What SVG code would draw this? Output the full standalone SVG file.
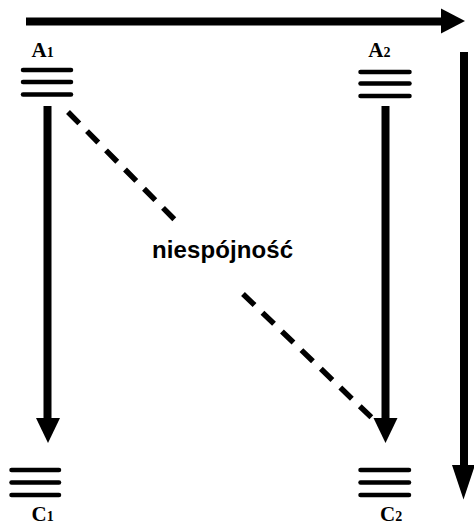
<svg xmlns="http://www.w3.org/2000/svg" width="474" height="526" viewBox="0 0 474 526">
<style>
.bar{stroke:#000;stroke-width:4.5;stroke-linecap:round;fill:none}
.lbl{font-family:"Liberation Serif","Times New Roman",serif;font-weight:bold;font-size:21px;fill:#000}
.sub{font-size:14px}
.shaft{stroke:#000;stroke-width:8;fill:none}
.dash{stroke:#000;stroke-width:5.5;stroke-dasharray:16 11;fill:none}
.head{fill:#000}
.mid{font-family:"Liberation Sans",Arial,sans-serif;font-weight:bold;font-size:24px;fill:#000}
</style>
<rect width="474" height="526" fill="#fff"/>
<g id="connectors">
  <line class="shaft" x1="26" y1="21.5" x2="443" y2="21.5"/>
  <polygon class="head" points="441,8.5 465,21 441,33.5"/>
  <line class="shaft" x1="464" y1="52" x2="464" y2="467"/>
  <polygon class="head" points="452,465 475,465 463.5,499.5"/>
  <line class="shaft" x1="47.5" y1="106" x2="47.5" y2="420"/>
  <polygon class="head" points="36,418 60,418 48,443"/>
  <line class="shaft" x1="385.5" y1="106" x2="385.5" y2="420"/>
  <polygon class="head" points="373.5,418 397.5,418 385.5,443"/>
  <line class="dash" x1="68" y1="112" x2="177" y2="222"/>
  <line class="dash" x1="243" y1="294" x2="372" y2="418"/>
  <text class="mid" x="152" y="258" textLength="141">niespójność</text>
</g>
<g id="A1">
  <line class="bar" x1="23" y1="70" x2="71" y2="70"/>
  <line class="bar" x1="23" y1="82" x2="71" y2="82"/>
  <line class="bar" x1="23" y1="94.5" x2="71" y2="94.5"/>
  <text class="lbl" x="31.5" y="57">A<tspan class="sub">1</tspan></text>
</g>
<g id="A2">
  <line class="bar" x1="360.5" y1="72" x2="409.5" y2="72"/>
  <line class="bar" x1="360.5" y1="83.5" x2="409.5" y2="83.5"/>
  <line class="bar" x1="360.5" y1="96" x2="409.5" y2="96"/>
  <text class="lbl" x="368.3" y="57">A<tspan class="sub">2</tspan></text>
</g>
<g id="C1">
  <line class="bar" x1="11.5" y1="470" x2="59" y2="470"/>
  <line class="bar" x1="11.5" y1="482.5" x2="59" y2="482.5"/>
  <line class="bar" x1="11.5" y1="495" x2="59" y2="495"/>
  <text class="lbl" x="31.5" y="520.5">C<tspan class="sub">1</tspan></text>
</g>
<g id="C2">
  <line class="bar" x1="360.5" y1="470" x2="409" y2="470"/>
  <line class="bar" x1="360.5" y1="482.5" x2="409" y2="482.5"/>
  <line class="bar" x1="360.5" y1="495" x2="409" y2="495"/>
  <text class="lbl" x="380" y="520.5">C<tspan class="sub">2</tspan></text>
</g>
</svg>
